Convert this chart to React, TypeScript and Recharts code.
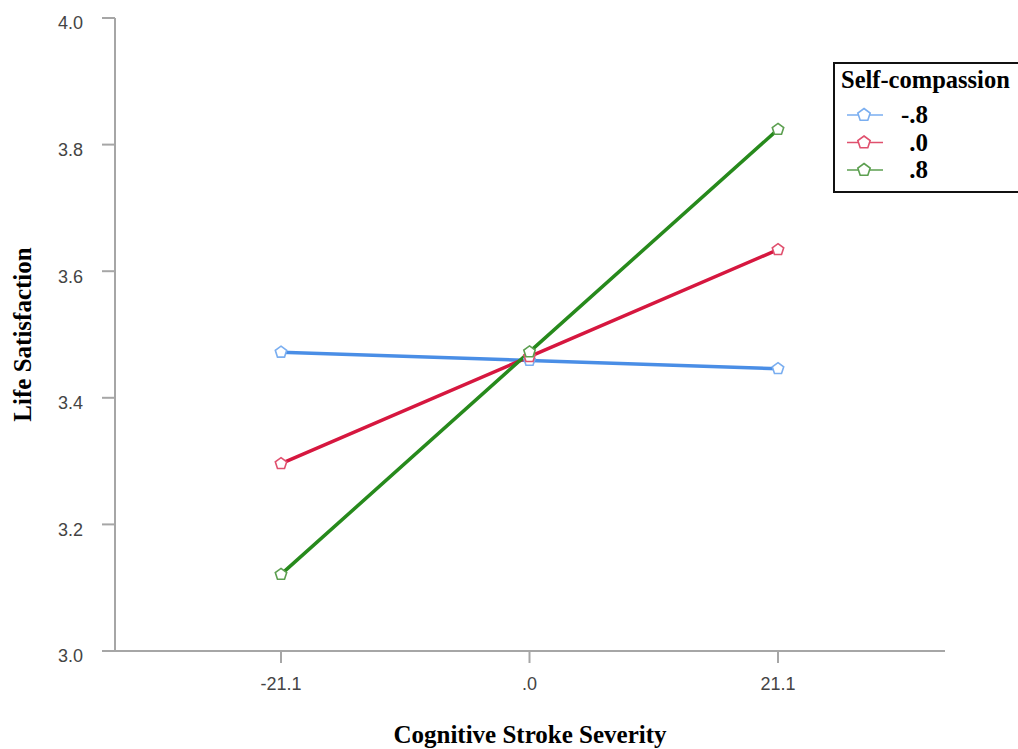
import React from 'react';
import { LineChart, Line, XAxis, YAxis, Label } from 'recharts';

const categories = ['-21.1', '.0', '21.1'];
const lowSC = [3.472, 3.459, 3.446];
const midSC = [3.296, 3.465, 3.634];
const highSC = [3.121, 3.4725, 3.824];
const yTicks = [3.0, 3.2, 3.4, 3.6, 3.8, 4.0];
const seriesNames = ['-.8', '.0', '.8'];
const legendTitle = 'Self-compassion';

const lineColors = ['#4a8ee6', '#d6173f', '#278a1c'];
const markerColors = ['#7aaef0', '#e0506e', '#5c9f50'];

const data = categories.map((c, i) => ({
  cat: c,
  low: lowSC[i],
  mid: midSC[i],
  high: highSC[i],
}));

const pentagon = (cx: number, cy: number, r: number) => {
  const pts: string[] = [];
  for (let k = 0; k < 5; k++) {
    const a = -Math.PI / 2 + (k * 2 * Math.PI) / 5;
    pts.push(`${cx + r * Math.cos(a)},${cy + r * Math.sin(a)}`);
  }
  return pts.join(' ');
};

const makeDot = (color: string) => (props: any) => {
  const { cx, cy, index } = props;
  if (cx == null || cy == null) return <g key={index} />;
  return (
    <polygon
      key={index}
      points={pentagon(cx, cy, 6)}
      fill="#ffffff"
      stroke={color}
      strokeWidth={1.6}
    />
  );
};

const YTick = (props: any) => {
  const { x, y, payload } = props;
  return (
    <text
      x={x}
      y={y + 5}
      dy="0.355em"
      textAnchor="end"
      fill="#444"
      fontSize={18}
      fontFamily="'Liberation Sans', Arial, sans-serif"
    >
      {Number(payload.value).toFixed(1)}
    </text>
  );
};

const XTick = (props: any) => {
  const { x, y, payload } = props;
  return (
    <text
      x={x}
      y={y}
      dy="0.71em"
      textAnchor="middle"
      fill="#444"
      fontSize={18}
      fontFamily="'Liberation Sans', Arial, sans-serif"
    >
      {payload.value}
    </text>
  );
};

const serif = "'Liberation Serif', 'Times New Roman', serif";

const LegendBox = () => (
  <svg
    width={185}
    height={131}
    style={{ position: 'absolute', left: 833, top: 62, display: 'block', overflow: 'hidden' }}
  >
    <rect x={1} y={1} width={200} height={129} fill="#ffffff" stroke="#111" strokeWidth={2} />
    <text x={8} y={26} fontFamily={serif} fontWeight="bold" fontSize={24.5} fill="#000">
      {legendTitle}
    </text>
    {seriesNames.map((name, i) => {
      const cy = 53 + i * 27.5;
      return (
        <g key={i}>
          <line x1={14} x2={50} y1={cy} y2={cy} stroke={markerColors[i]} strokeWidth={1.6} />
          <polygon points={pentagon(31, cy, 6.5)} fill="#ffffff" stroke={markerColors[i]} strokeWidth={1.6} />
          <text x={95} y={cy + 8} textAnchor="end" fontFamily={serif} fontWeight="bold" fontSize={25} fill="#000">
            {name}
          </text>
        </g>
      );
    })}
  </svg>
);

export default function App() {
  return (
    <div style={{ position: 'absolute', left: 0, top: 0, width: 1018, height: 749, background: '#fff', overflow: 'hidden' }}>
      <LineChart
        width={1018}
        height={749}
        data={data}
        margin={{ top: 18, right: 73, bottom: 0, left: 0 }}
      >
        <XAxis
          dataKey="cat"
          height={98}
          padding={{ left: 166, right: 167 }}
          stroke="#a6a6a6"
          strokeWidth={2}
          tickSize={12}
          tickMargin={14}
          tick={<XTick />}
          tickLine={{ stroke: '#a6a6a6', strokeWidth: 2 }}
        >
          <Label
            value="Cognitive Stroke Severity"
            position="center"
            dy={34}
            fontFamily={serif}
            fontWeight="bold"
            fontSize={25}
            fill="#000"
          />
        </XAxis>
        <YAxis
          width={115}
          domain={[3.0, 4.0]}
          ticks={yTicks}
          type="number"
          stroke="#a6a6a6"
          strokeWidth={2}
          tickSize={13}
          tickMargin={19}
          tick={<YTick />}
          tickLine={{ stroke: '#a6a6a6', strokeWidth: 2 }}
          allowDataOverflow
        >
          <Label
            value="Life Satisfaction"
            position="center"
            angle={-90}
            dx={-35}
            fontFamily={serif}
            fontWeight="bold"
            fontSize={25}
            fill="#000"
          />
        </YAxis>
        <Line
          type="linear"
          dataKey="low"
          name={seriesNames[0]}
          stroke={lineColors[0]}
          strokeWidth={3.5}
          dot={makeDot(markerColors[0])}
          activeDot={false}
          isAnimationActive={false}
        />
        <Line
          type="linear"
          dataKey="mid"
          name={seriesNames[1]}
          stroke={lineColors[1]}
          strokeWidth={3.5}
          dot={makeDot(markerColors[1])}
          activeDot={false}
          isAnimationActive={false}
        />
        <Line
          type="linear"
          dataKey="high"
          name={seriesNames[2]}
          stroke={lineColors[2]}
          strokeWidth={3.5}
          dot={makeDot(markerColors[2])}
          activeDot={false}
          isAnimationActive={false}
        />
      </LineChart>
      <LegendBox />
    </div>
  );
}
